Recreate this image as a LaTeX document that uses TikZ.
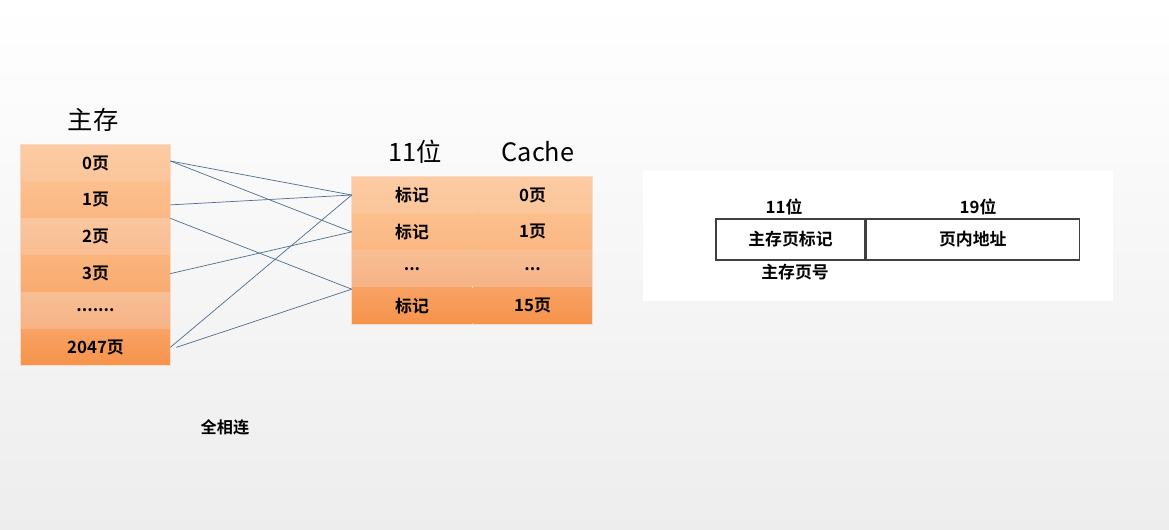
\documentclass[tikz,border=0pt]{standalone}
\usepackage{fontspec}
\setmainfont{Noto Sans CJK SC}[BoldFont={Noto Sans CJK SC Bold}]
\usepackage{xcolor}
\usetikzlibrary{positioning, calc}

\definecolor{rowA}{HTML}{FCCBA3}
\definecolor{rowAb}{HTML}{FBC59A}
\definecolor{rowB}{HTML}{FCBF8E}
\definecolor{rowBb}{HTML}{FAB783}
\definecolor{rowC}{HTML}{FAC69E}
\definecolor{rowCb}{HTML}{F9BD92}
\definecolor{rowD}{HTML}{FAB47C}
\definecolor{rowDb}{HTML}{F8AB70}
\definecolor{rowE}{HTML}{F8BE93}
\definecolor{rowEb}{HTML}{F5B386}
\definecolor{rowF}{HTML}{F8A264}
\definecolor{rowFb}{HTML}{F5934B}
\definecolor{wire}{HTML}{4D6E8E}
\definecolor{rim}{HTML}{F6DCC8}

\begin{document}
\begin{tikzpicture}[x=0.025cm, y=-0.025cm, node distance=0pt,
  cell/.style={rectangle, inner sep=0pt, minimum width=3.725cm,
    minimum height=0.9075cm, font=\fontsize{12}{14}\selectfont\bfseries},
  half/.style={cell, minimum width=3cm},
  title/.style={font=\fontsize{18}{20}\selectfont},
  field/.style={rectangle, draw=black!75, line width=0.9pt, inner sep=0pt,
    minimum height=1.025cm, font=\fontsize{12}{14}\selectfont\bfseries},
  tag/.style={font=\fontsize{12}{14}\selectfont\bfseries},
  link/.style={draw=wire, line width=0.5pt}]
  % Background
  \fill[top color=white, bottom color=black!7] (0,0) rectangle (1169,529);
  \useasboundingbox (0,0) rectangle (1169,529);
  % Main memory
  \node[title] (mtitle) at (93,120) {主存};
  \node[cell, top color=rowA, bottom color=rowAb] (m0) at (95.5,163) {0页};
  \node[cell, top color=rowB, bottom color=rowBb, below=of m0] (m1) {1页};
  \node[cell, top color=rowC, bottom color=rowCb, below=of m1] (m2) {2页};
  \node[cell, top color=rowD, bottom color=rowDb, below=of m2] (m3) {3页};
  \node[cell, top color=rowE, bottom color=rowEb, below=of m3] (m4) {.......};
  \node[cell, top color=rowF, bottom color=rowFb, below=of m4] (m5) {2047页};
  \draw[rim, line width=0.6pt] (m0.north west) rectangle (m5.south east);
  % Cache
  \node[title] (ctag) at (415,152) {11位};
  \node[title] (cname) at (538,152) {Cache};
  \node[half, top color=rowA, bottom color=rowAb] (t0) at (412,195) {标记};
  \node[half, top color=rowA, bottom color=rowAb, right=of t0] (p0) {0页};
  \node[half, top color=rowB, bottom color=rowBb, below=of t0] (t1) {标记};
  \node[half, top color=rowB, bottom color=rowBb, right=of t1] (p1) {1页};
  \node[half, top color=rowE, bottom color=rowEb, below=of t1] (t2) {...};
  \node[half, top color=rowE, bottom color=rowEb, right=of t2] (p2) {...};
  \node[half, top color=rowF, bottom color=rowFb, below=of t2] (t3) {标记};
  \node[half, top color=rowF, bottom color=rowFb, right=of t3] (p3) {15页};
  \draw[rim, line width=0.6pt] (t0.north west) rectangle (p3.south east);
  % Mapping lines
  \coordinate (e0) at ($(m0.east)+(0,-2)$);
  \coordinate (e1) at ($(m1.east)+(0,5)$);
  \coordinate (e3) at ($(t3.north west)+(0,2)$);
  \draw[link] (e0) -- (t0.west);
  \draw[link] (e0) -- (t1.west);
  \draw[link] (e1) -- (t0.west);
  \draw[link] (m1.south east) -- (e3);
  \draw[link] (m3.east) -- (t1.west);
  \draw[link] (m5.east) -- (t0.west);
  \draw[link] ($(m5.east)+(6,0)$) -- (e3);
  \node[font=\fontsize{11.5}{13}\selectfont\bfseries] (kind) at (225,427) {全相连};
  % Address format
  \fill[white] (643,171) rectangle (1113,301);
  \node[field, minimum width=3.725cm] (fpage) at (790.5,239.5) {主存页标记};
  \node[field, minimum width=5.325cm, right=of fpage] (foff) {页内地址};
  \node[tag] (bits1) at (784,207) {11位};
  \node[tag] (bits2) at (978,207) {19位};
  \node[tag] (pnum) at (795,272) {主存页号};
\end{tikzpicture}
\end{document}
